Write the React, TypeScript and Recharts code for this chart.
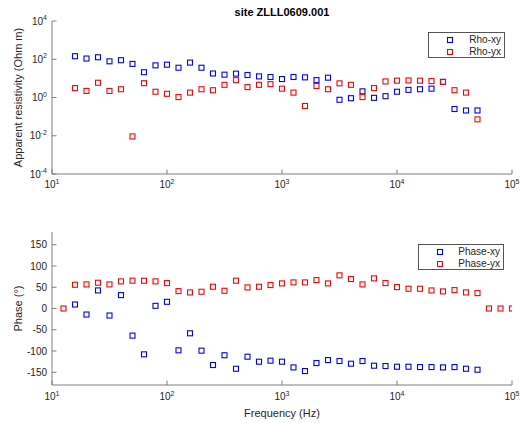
import { ScatterChart, Scatter, XAxis, YAxis, Legend } from 'recharts'

const TXT = '#262626'
const FRAME = '#7f7f7f'
const BLUE = '#0000ff'
const RED = '#ff0000'
const FONT = '"Liberation Sans", Arial, Helvetica, sans-serif'

// frequencies (Hz), 10 per decade
const FREQ = [
  15.85, 19.95, 25.12, 31.62, 39.81, 50.12, 63.1, 79.43, 100, 125.9, 158.5, 199.5,
  251.2, 316.2, 398.1, 501.2, 631, 794.3, 1000, 1259, 1585, 1995, 2512, 3162,
  3981, 5012, 6310, 7943, 10000, 12589, 15849, 19953, 25119, 31623, 39811, 50119,
]
const FREQ_PHASE_YX = [
  12.59, 15.85, 19.95, 25.12, 31.62, 39.81, 50.12, 63.1, 79.43, 100, 125.9, 158.5,
  199.5, 251.2, 316.2, 398.1, 501.2, 631, 794.3, 1000, 1259, 1585, 1995, 2512,
  3162, 3981, 5012, 6310, 7943, 10000, 12589, 15849, 19953, 25119, 31623, 39811,
  50119, 63096, 79433, 100000,
]

const RHO_XY = [
  144, 109, 127, 78, 89, 57, 21, 48, 52, 36, 67, 36, 18, 15.6, 17.7, 15, 12.7, 11.8,
  9.2, 11.8, 11.3, 8.1, 10.9, 0.76, 0.92, 2.1, 0.96, 1.17, 2.0, 2.5, 2.7, 2.9, 6.5,
  0.25, 0.21, 0.21,
]
const RHO_YX = [
  3.1, 2.2, 5.9, 2.2, 2.7, 0.0092, 5.6, 2.0, 1.56, 1.05, 1.8, 2.7, 2.4, 4.6, 8.1, 3.5,
  4.6, 5.0, 2.9, 1.8, 0.36, 4.0, 2.7, 5.5, 4.6, 1.05, 3.1, 6.9, 7.6, 7.8, 7.6, 7.2, 6.6,
  2.4, 1.8, 0.072,
]
const PHASE_XY = [
  9.4, -14.2, 42.5, -16.5, 31.5, -63.8, -107.9, 6.3, 15.7, -98.4, -58.3, -99.2, -133,
  -110, -141.7, -113.4, -125.2, -122.8, -125.2, -138.6, -147.2, -128.3, -121.3, -123.6,
  -129.9, -123.6, -134.6, -135.4, -137, -137, -137.8, -137.8, -138.6, -137.8, -141.7,
  -144.1,
]
const PHASE_YX = [
  0, 55.9, 56.7, 60.6, 56.7, 63.8, 65.4, 65.4, 63.8, 59.8, 40.9, 37.8, 39.4, 51.2, 41.7,
  65.4, 49.6, 51.2, 55.1, 59.1, 61.4, 61.4, 66.9, 59.1, 78, 69.3, 56.7, 70.9, 59.8, 50.4,
  46.5, 46.5, 42.5, 40.2, 43.3, 37.8, 36.2, 0, 0, 0,
]

const X_MAJOR = [10, 100, 1000, 10000, 100000]
const X_MINOR = [
  20, 30, 40, 50, 60, 70, 80, 90, 200, 300, 400, 500, 600, 700, 800, 900,
  2000, 3000, 4000, 5000, 6000, 7000, 8000, 9000,
  20000, 30000, 40000, 50000, 60000, 70000, 80000, 90000,
]
const RHO_TICKS = [1e-4, 1e-2, 1, 1e2, 1e4]
const PHASE_TICKS = [-150, -100, -50, 0, 50, 100, 150]

const rhoXy = FREQ.map((f, i) => ({ f, v: RHO_XY[i] }))
const rhoYx = FREQ.map((f, i) => ({ f, v: RHO_YX[i] }))
const phaseXy = FREQ.map((f, i) => ({ f, v: PHASE_XY[i] }))
const phaseYx = FREQ_PHASE_YX.map((f, i) => ({ f, v: PHASE_YX[i] }))

const square = (color: string) => (p: any) => (
  <rect x={p.cx - 2.5} y={p.cy - 2.5} width={5} height={5} fill="none" stroke={color} strokeWidth={1.1} />
)

// "10^n" tick label
const PowTick = (p: any) => {
  const exp = Math.round(Math.log10(p.payload.value))
  return (
    <text x={p.x} y={p.y} dy={p.dy} textAnchor={p.anchor} fill={TXT} fontSize={10} fontFamily={FONT}>
      <tspan>10</tspan>
      <tspan dy={-4.5} fontSize={7}>{exp}</tspan>
    </text>
  )
}

const NumTick = (p: any) => (
  <text x={p.x} y={p.y} dy={3.5} textAnchor="end" fill={TXT} fontSize={10} fontFamily={FONT}>
    {p.payload.value}
  </text>
)

const Blank = () => <g />

const LegendBox = ({ payload, width, markerX }: any) => (
  <div
    style={{
      width,
      height: 23,
      border: '1px solid #555',
      background: '#fff',
      paddingTop: 1,
      fontFamily: FONT,
      fontSize: 10,
      color: TXT,
    }}
  >
    {(payload || []).map((e: any) => (
      <div key={e.value} style={{ position: 'relative', height: 11.5 }}>
        <svg width={8} height={8} style={{ position: 'absolute', left: markerX - 4, top: 2 }}>
          <rect x={1.5} y={1.5} width={5} height={5} fill="none" stroke={e.color} strokeWidth={1.1} />
        </svg>
        <span style={{ position: 'absolute', right: 3, top: 0, lineHeight: '11.5px' }}>{e.value}</span>
      </div>
    ))}
  </div>
)

const logX = { type: 'number' as const, scale: 'log' as const, domain: [10, 100000], allowDataOverflow: true, interval: 0 }

function xAxes(height: number, labelDy: number, label?: any) {
  return [
    <XAxis key="x" xAxisId="x" dataKey="f" {...logX} ticks={X_MAJOR} orientation="bottom" height={height}
      tickSize={-4.5} tickMargin={4.5} stroke={FRAME} tick={<PowTick dy={labelDy} anchor="middle" />} label={label} />,
    <XAxis key="xbm" xAxisId="xbm" {...logX} ticks={X_MINOR} orientation="bottom" mirror height={0}
      tickSize={2.5} stroke={FRAME} axisLine={false} tick={Blank} />,
    <XAxis key="xt" xAxisId="xt" {...logX} ticks={X_MAJOR} orientation="top" mirror height={0}
      tickSize={4.5} stroke={FRAME} tick={Blank} />,
    <XAxis key="xtm" xAxisId="xtm" {...logX} ticks={X_MINOR} orientation="top" mirror height={0}
      tickSize={2.5} stroke={FRAME} axisLine={false} tick={Blank} />,
  ]
}

function yAxes(yProps: any, ticks: number[], tick: any, label: string) {
  return [
    <YAxis key="y" yAxisId="y" dataKey="v" {...yProps} ticks={ticks} interval={0} width={52} tickSize={-4.5} tickMargin={9.5}
      stroke={FRAME} tick={tick}
      label={{ value: label, angle: -90, position: 'insideLeft', offset: 18,
        style: { textAnchor: 'middle', fill: TXT, fontSize: 11, fontFamily: FONT } }} />,
    <YAxis key="yr" yAxisId="yr" {...yProps} ticks={ticks} interval={0} orientation="right" mirror width={0}
      tickSize={4.5} stroke={FRAME} tick={Blank} />,
  ]
}

export default function App() {
  return (
    <div style={{ position: 'absolute', left: 0, top: 0, width: 521, height: 423, background: '#fff' }}>
      <div
        style={{
          position: 'absolute', left: 52, top: 6, width: 460, textAlign: 'center',
          fontFamily: FONT, fontSize: 11, fontWeight: 'bold', color: '#000', lineHeight: '12px',
        }}
      >
        site ZLLL0609.001
      </div>

      <div style={{ position: 'absolute', left: 0, top: 0 }}>
        <ScatterChart width={521} height={200} margin={{ top: 21, right: 9, bottom: 0, left: 0 }}>
          {xAxes(26, 14)}
          {yAxes({ type: 'number', scale: 'log', domain: [1e-4, 1e4], allowDataOverflow: true }, RHO_TICKS,
            <PowTick dy={3.5} anchor="end" />, 'Apparent resistivity (Ohm m)')}
          <Legend layout="vertical" align="center" verticalAlign="middle"
            wrapperStyle={{ left: 428, top: 32, width: 75 }}
            content={(props: any) => <LegendBox payload={props.payload} width={75} markerX={21} />} />
          <Scatter xAxisId="x" yAxisId="y" name="Rho-xy" data={rhoXy} fill={BLUE} shape={square(BLUE)} isAnimationActive={false} />
          <Scatter xAxisId="x" yAxisId="y" name="Rho-yx" data={rhoYx} fill={RED} shape={square(RED)} isAnimationActive={false} />
        </ScatterChart>
      </div>

      <div style={{ position: 'absolute', left: 0, top: 200 }}>
        <ScatterChart width={521} height={223} margin={{ top: 32, right: 9, bottom: 0, left: 0 }}>
          {xAxes(38, 15, { value: 'Frequency (Hz)', position: 'insideBottom', offset: 6,
            style: { fill: TXT, fontSize: 11, fontFamily: FONT } })}
          {yAxes({ type: 'number', domain: [-180, 180], allowDataOverflow: true }, PHASE_TICKS,
            <NumTick />, 'Phase (°)')}
          <Legend layout="vertical" align="center" verticalAlign="middle"
            wrapperStyle={{ left: 418, top: 44, width: 84 }}
            content={(props: any) => <LegendBox payload={props.payload} width={84} markerX={21} />} />
          <Scatter xAxisId="x" yAxisId="y" name="Phase-xy" data={phaseXy} fill={BLUE} shape={square(BLUE)} isAnimationActive={false} />
          <Scatter xAxisId="x" yAxisId="y" name="Phase-yx" data={phaseYx} fill={RED} shape={square(RED)} isAnimationActive={false} />
        </ScatterChart>
      </div>
    </div>
  )
}
